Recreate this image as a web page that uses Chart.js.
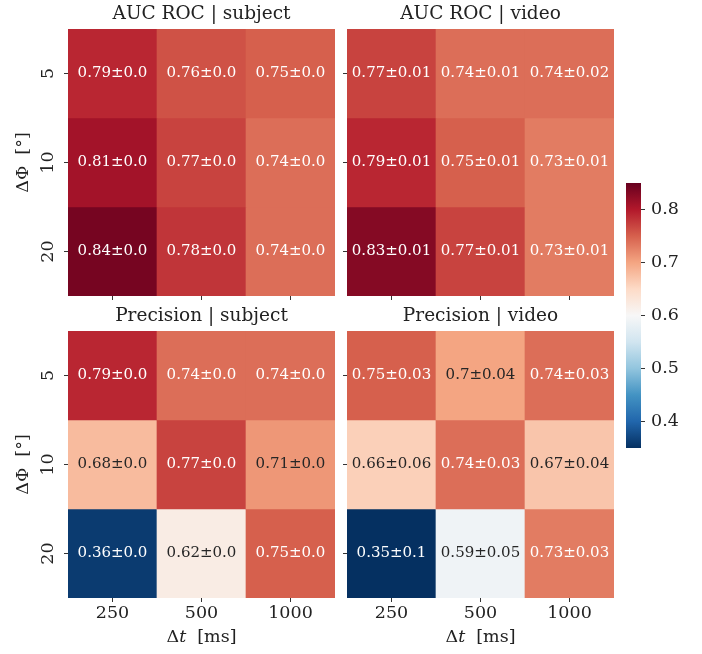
<!DOCTYPE html>
<html>
<head>
<meta charset="utf-8">
<script src="https://cdn.jsdelivr.net/npm/chart.js@4.4.0/dist/chart.umd.min.js"></script>
<style>
  body { margin: 0; background: #fff; width: 702px; height: 654px; position: relative; overflow: hidden; }
  canvas { position: absolute; }
</style>
</head>
<body>
<canvas id="aucSubject" width="345" height="303" style="left:0px;top:3px"></canvas>
<canvas id="aucVideo" width="282" height="303" style="left:340px;top:3px"></canvas>
<canvas id="precSubject" width="345" height="349" style="left:0px;top:305px"></canvas>
<canvas id="precVideo" width="282" height="349" style="left:340px;top:305px"></canvas>
<canvas id="cbar" width="82" height="285" style="left:620px;top:175px"></canvas>
<script>
// categories
const dtLabels = ['250', '500', '1000'];   // Δt [ms], columns
const dphiLabels = ['5', '10', '20'];      // ΔΦ [°], rows

// mean / std per cell, rows = ΔΦ, cols = Δt
const aucSubjectMean = [[0.79, 0.76, 0.75], [0.81, 0.77, 0.74], [0.84, 0.78, 0.74]];
const aucSubjectStd  = [[0.0, 0.0, 0.0], [0.0, 0.0, 0.0], [0.0, 0.0, 0.0]];
const aucVideoMean   = [[0.77, 0.74, 0.74], [0.79, 0.75, 0.73], [0.83, 0.77, 0.73]];
const aucVideoStd    = [[0.01, 0.01, 0.02], [0.01, 0.01, 0.01], [0.01, 0.01, 0.01]];
const precSubjectMean = [[0.79, 0.74, 0.74], [0.68, 0.77, 0.71], [0.36, 0.62, 0.75]];
const precSubjectStd  = [[0.0, 0.0, 0.0], [0.0, 0.0, 0.0], [0.0, 0.0, 0.0]];
const precVideoMean  = [[0.75, 0.7, 0.74], [0.66, 0.74, 0.67], [0.35, 0.59, 0.73]];
const precVideoStd   = [[0.03, 0.04, 0.03], [0.06, 0.03, 0.04], [0.1, 0.05, 0.03]];

// colour bar
const cbarTicks = [0.4, 0.5, 0.6, 0.7, 0.8];
const vmin = 0.35;
const vmax = 0.85;

Chart.defaults.font.family = '"DejaVu Serif"';
Chart.defaults.color = '#222';

// RdBu_r
const rdbuR = ['#053061', '#2166ac', '#4393c3', '#92c5de', '#d1e5f0', '#f7f7f7',
               '#fddbc7', '#f4a582', '#d6604d', '#b2182b', '#67001f'];

function hexRgb(h) {
  return [1, 3, 5].map(i => parseInt(h.substr(i, 2), 16));
}

function cmap(v) {
  let t = (v - vmin) / (vmax - vmin);
  t = Math.min(1, Math.max(0, t));
  const p = t * 10;
  const i = Math.min(9, Math.floor(p));
  const f = p - i;
  const a = hexRgb(rdbuR[i]), b = hexRgb(rdbuR[i + 1]);
  return a.map((c, k) => Math.round(c + (b[k] - c) * f));
}

// same rule seaborn uses for annotation colour
function textColor(rgb) {
  const lin = rgb.map(c => {
    c = c / 255;
    return c <= 0.03928 ? c / 12.92 : Math.pow((c + 0.055) / 1.055, 2.4);
  });
  const lum = 0.2126 * lin[0] + 0.7152 * lin[1] + 0.0722 * lin[2];
  return lum > 0.408 ? '#262626' : '#ffffff';
}

function fmt(v) {
  return Number.isInteger(v) ? v.toFixed(1) : String(v);
}

const tickFont = { size: 17.5 };
const tickGrid = {
  display: true, drawOnChartArea: false, drawTicks: true,
  tickLength: 4, tickColor: '#333', tickWidth: 1, offset: false
};

const cellLabels = {
  id: 'cellLabels',
  afterDatasetsDraw(chart) {
    const ctx = chart.ctx;
    ctx.save();
    ctx.font = '15px "DejaVu Serif"';
    ctx.textAlign = 'center';
    ctx.textBaseline = 'middle';
    chart.data.datasets.forEach((ds, i) => {
      if (!ds.cellText) return;
      chart.getDatasetMeta(i).data.forEach((el, j) => {
        ctx.fillStyle = ds.textColors[j];
        ctx.fillText(ds.cellText[j], el.x, (el.y + el.base) / 2);
      });
    });
    ctx.restore();
  }
};

function heatmap(id, title, means, stds, showX, showY) {
  const datasets = dphiLabels.map((lab, r) => {
    const cols = means[r].map(v => cmap(v));
    return {
      label: lab,
      data: means[r].map(() => [r - 0.5, r + 0.5]),
      backgroundColor: cols.map(c => `rgb(${c[0]},${c[1]},${c[2]})`),
      borderWidth: 0,
      grouped: false,
      barPercentage: 1,
      categoryPercentage: 1,
      cellText: means[r].map((v, c) => fmt(v) + '±' + fmt(stds[r][c])),
      textColors: cols.map(textColor)
    };
  });

  return new Chart(document.getElementById(id), {
    type: 'bar',
    data: { labels: dtLabels, datasets },
    options: {
      responsive: false,
      animation: false,
      layout: { padding: { left: 0, top: 0, bottom: 0, right: showY ? 10 : 8 } },
      plugins: {
        legend: { display: false },
        tooltip: { enabled: false },
        title: {
          display: true, text: title, color: '#222', fullSize: false,
          font: { size: 18.5, weight: 'normal', lineHeight: 1.2 },
          padding: { top: 0, bottom: 3.8 }
        }
      },
      scales: {
        x: {
          offset: true,
          grid: tickGrid,
          border: { display: false },
          ticks: { display: showX, font: tickFont, color: '#222', padding: 1, maxRotation: 0 },
          title: {
            display: showX, text: 'Δ𝑡  [ms]', color: '#222',
            font: { size: 17.5, lineHeight: 1.2 }, padding: { top: 0, bottom: 6 }
          },
          afterFit(s) {
            s.height = showX ? 56 : 10;
            s.paddingLeft = 0; s.paddingRight = 0;
          }
        },
        y: {
          type: 'linear',
          min: -0.5, max: 2.5, reverse: true,
          afterBuildTicks(s) { s.ticks = dphiLabels.map((_, i) => ({ value: i })); },
          grid: tickGrid,
          border: { display: false },
          ticks: {
            display: showY, font: tickFont, color: '#222', padding: 4,
            minRotation: 90, maxRotation: 90, crossAlign: 'center',
            callback: v => dphiLabels[v]
          },
          title: {
            display: showY, text: 'ΔΦ  [°]', color: '#222',
            font: { size: 17.5, lineHeight: 1.2 }, padding: { top: 12.5, bottom: 0 }
          },
          afterFit(s) {
            s.width = showY ? 68 : 7;
            s.paddingTop = 0; s.paddingBottom = 0;
          }
        }
      }
    },
    plugins: [cellLabels]
  });
}

heatmap('aucSubject', 'AUC ROC | subject', aucSubjectMean, aucSubjectStd, false, true);
heatmap('aucVideo', 'AUC ROC | video', aucVideoMean, aucVideoStd, false, false);
heatmap('precSubject', 'Precision | subject', precSubjectMean, precSubjectStd, true, true);
heatmap('precVideo', 'Precision | video', precVideoMean, precVideoStd, true, false);

// colour bar: one floating bar spanning vmin..vmax with the colormap as gradient
new Chart(document.getElementById('cbar'), {
  type: 'bar',
  data: {
    labels: [''],
    datasets: [{
      data: [[vmin, vmax]],
      borderWidth: 0,
      barPercentage: 1,
      categoryPercentage: 1,
      backgroundColor(c) {
        const chart = c.chart;
        if (!chart.chartArea) return null;
        const y = chart.scales.y;
        const g = chart.ctx.createLinearGradient(0, y.getPixelForValue(vmin), 0, y.getPixelForValue(vmax));
        rdbuR.forEach((col, i) => g.addColorStop(i / 10, col));
        return g;
      }
    }]
  },
  options: {
    responsive: false,
    animation: false,
    layout: { padding: { left: 6, top: 8, bottom: 12, right: 0 } },
    plugins: { legend: { display: false }, tooltip: { enabled: false } },
    scales: {
      x: { display: false },
      y: {
        position: 'right',
        min: vmin, max: vmax,
        afterBuildTicks(s) { s.ticks = cbarTicks.map(v => ({ value: v })); },
        grid: tickGrid,
        border: { display: false },
        ticks: { font: tickFont, color: '#222', padding: 6, callback: v => v.toFixed(1) },
        afterFit(s) {
          s.width = 61;
          s.paddingTop = 0; s.paddingBottom = 0;
        }
      }
    }
  }
});
</script>
</body>
</html>
